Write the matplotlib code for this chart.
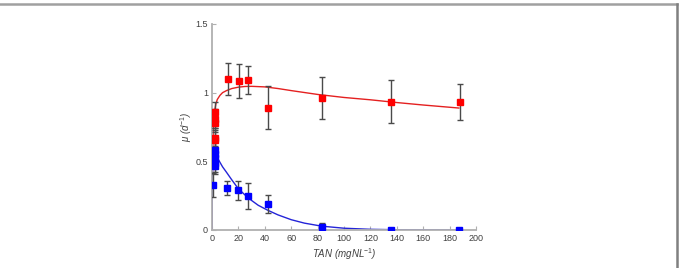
import numpy as np
import matplotlib
matplotlib.use("Agg")
import matplotlib.pyplot as plt
from matplotlib.lines import Line2D

plt.rcParams['font.family'] = ['Liberation Sans', 'DejaVu Sans']
plt.rcParams['mathtext.fontset'] = 'custom'
plt.rcParams['mathtext.it'] = 'Liberation Sans:italic'
plt.rcParams['mathtext.rm'] = 'Liberation Sans'

tan_red = [1.0, 2.0, 2.0, 2.0, 2.0, 2.0, 11.9, 20.2, 27.5, 42.2, 83.6, 135.4, 187.6]
mu_red = [0.53, 0.86, 0.81, 0.78, 0.67, 0.655, 1.10, 1.086, 1.093, 0.89, 0.962, 0.933, 0.933]
err_red = [0.05, 0.07, 0.07, 0.07, 0.07, 0.07, 0.115, 0.125, 0.10, 0.156, 0.155, 0.157, 0.133]

tan_blue = [0.5, 2.0, 2.0, 2.0, 2.0, 2.0, 11.6, 19.7, 27.0, 42.2, 83.1, 135.4, 187.3]
mu_blue = [0.327, 0.58, 0.553, 0.521, 0.485, 0.465, 0.308, 0.289, 0.25, 0.191, 0.024, 0.003, 0.003]
err_blue = [0.09, 0.06, 0.06, 0.06, 0.06, 0.06, 0.052, 0.07, 0.095, 0.067, 0.03, 0.0, 0.0]

# ---- fitted curves ----
fit_red_x = [0, 0.5, 1, 1.5, 2, 3, 4, 6, 8, 11, 15, 20, 25, 30, 40, 50, 60, 80, 100, 120, 140, 160, 187]
fit_red_y = [0, 0.55, 0.75, 0.83, 0.87, 0.92, 0.95, 0.98, 1.0, 1.015, 1.03, 1.04, 1.045, 1.046,
             1.042, 1.03, 1.015, 0.987, 0.965, 0.948, 0.928, 0.91, 0.888]

fit_blue_x = [0, 0.2, 0.5, 1, 2, 3, 5, 8, 11, 15, 20, 25, 30, 35, 42, 50, 60, 70, 83, 100, 120, 140, 160, 187]
fit_blue_y = [0, 0.3, 0.45, 0.52, 0.55, 0.545, 0.51, 0.46, 0.42, 0.365, 0.30, 0.255, 0.215, 0.18,
              0.145, 0.11, 0.075, 0.05, 0.028, 0.013, 0.005, 0.002, 0.001, 0.0]

xticks = [0, 20, 40, 60, 80, 100, 120, 140, 160, 180, 200]
yticks = [0, 0.5, 1, 1.5]
ytick_labels = ["0", "0.5", "1", "1.5"]

fig = plt.figure(figsize=(6.81, 2.68), dpi=100)
ax = fig.add_axes([0.3113, 0.1418, 0.3877, 0.7687])

# red series
ax.plot(fit_red_x, fit_red_y, color="#e42020", lw=1.0, zorder=2)
ax.errorbar(tan_red, mu_red, yerr=err_red, fmt="none", ecolor="#4a4a4a",
            elinewidth=1.0, capsize=2.5, capthick=1.0, zorder=3)
ax.plot(tan_red, mu_red, "s", color="#ff0000", ms=4.5, mec="#ff0000", zorder=4)

# blue series
ax.plot(fit_blue_x, fit_blue_y, color="#2424d8", lw=1.0, zorder=2)
ax.errorbar(tan_blue, mu_blue, yerr=err_blue, fmt="none", ecolor="#4a4a4a",
            elinewidth=1.0, capsize=2.5, capthick=1.0, zorder=3)
ax.plot(tan_blue, mu_blue, "s", color="#0000ff", ms=4.5, mec="#0000ff", zorder=4)

ax.set_xlim(0, 200)
ax.set_ylim(0, 1.5)
ax.set_xticks(xticks)
ax.set_yticks(yticks)
ax.set_yticklabels(ytick_labels)
for s in ["top", "right"]:
    ax.spines[s].set_visible(False)
for s in ["left", "bottom"]:
    ax.spines[s].set_color("#b0b0b0")
    ax.spines[s].set_linewidth(1.3)
ax.tick_params(direction="in", length=3, width=0.8, color="#b0b0b0",
               labelsize=6.5, labelcolor="#404040", pad=3)
ax.set_xlabel("TAN (mgNL$^{-1}$)", fontsize=7, style="italic", color="#404040", labelpad=2)
ax.set_ylabel("$\\mu$ (d$^{-1}$)", fontsize=7, style="italic", color="#404040", labelpad=1)

# frame lines on the figure edge (top and right)
fig.add_artist(Line2D([0, 677 / 681], [1 - 4 / 268, 1 - 4 / 268], transform=fig.transFigure,
                      color="#a0a0a0", lw=1.8))
fig.add_artist(Line2D([677 / 681, 677 / 681], [0, 1 - 4 / 268], transform=fig.transFigure,
                      color="#808080", lw=1.8))

fig.savefig("out.png", dpi=100)
